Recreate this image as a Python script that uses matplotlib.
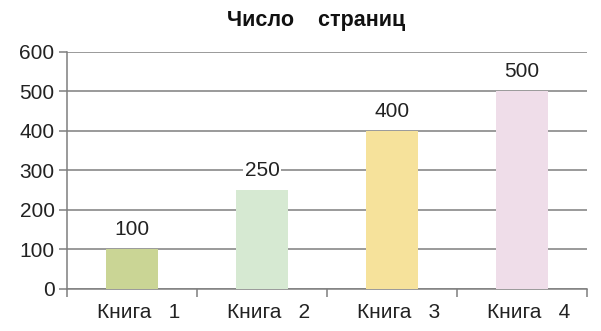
import numpy as np
import matplotlib.pyplot as plt

plt.rcParams['font.family'] = ['Liberation Sans', 'DejaVu Sans']

# data
books = ['Книга   1', 'Книга   2', 'Книга   3', 'Книга   4']
pages = [100, 250, 400, 500]
bar_colors = ['#cad595', '#d6e9d2', '#f6e29b', '#efdde9']
yticks = [0, 100, 200, 300, 400, 500, 600]

grey = '#7f7f7f'
txt = '#222222'

fig = plt.figure(figsize=(6.01, 3.31), dpi=100)
ax = fig.add_axes([0.1115, 0.127, 0.865, 0.716])

x = np.arange(len(books))
ax.bar(x, pages, width=0.4, color=bar_colors, zorder=3)

for xi, v in zip(x, pages):
    ax.text(xi, v + 26, str(v), ha='center', va='bottom', fontsize=15,
            color=txt, zorder=4,
            bbox=dict(facecolor='white', edgecolor='none', pad=1.0))

ax.set_xlim(-0.5, len(books) - 0.5)
ax.set_ylim(0, 600)
ax.set_yticks(yticks)
ax.yaxis.grid(True, color=grey, lw=1.1, zorder=1)
ax.set_axisbelow(True)

# category labels between boundary ticks
ax.set_xticks(np.arange(len(books) + 1) - 0.5)
ax.set_xticklabels([])
ax.set_xticks(x + 0.05, minor=True)
ax.set_xticklabels(books, minor=True)
ax.tick_params(axis='x', which='minor', length=0, labelsize=15, pad=10, labelcolor=txt)
ax.tick_params(axis='x', which='major', length=6, color=grey, width=1.1)
ax.tick_params(axis='y', length=6, color=grey, width=1.1, labelsize=15, pad=3, labelcolor=txt)

for s in ['top', 'right']:
    ax.spines[s].set_visible(False)
for s in ['left', 'bottom']:
    ax.spines[s].set_color(grey)
    ax.spines[s].set_linewidth(1.1)

fig.text(0.526, 0.937, 'Число    страниц', ha='center', va='center',
         fontsize=15.5, fontweight='bold', color='#111111')

fig.savefig('out.png', dpi=100)
